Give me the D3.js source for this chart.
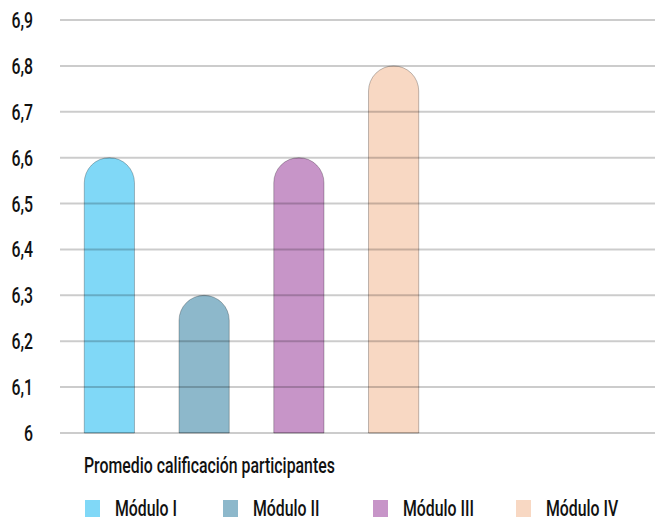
<!DOCTYPE html>
<html>
<head>
<meta charset="utf-8">
<script src="https://cdn.jsdelivr.net/npm/d3@7"></script>
<style>
  html, body { margin: 0; padding: 0; background: #fff; }
  svg { display: block; }
  text { font-family: Roboto, "DejaVu Sans", sans-serif; font-size: 22px; font-weight: 500; fill: #111; }
</style>
</head>
<body>
<svg id="chart" width="655" height="517"></svg>
<script>
// Average grade per module
const categories = ["Módulo I", "Módulo II", "Módulo III", "Módulo IV"];
const values = [6.6, 6.3, 6.6, 6.8];
const colors = ["#80d8f7", "#8db8cb", "#c795c8", "#f8d8c3"];
const yTicks = [6, 6.1, 6.2, 6.3, 6.4, 6.5, 6.6, 6.7, 6.8, 6.9];
const title = "Promedio calificación participantes";

const svg = d3.select("#chart");
const gridLeft = 60, gridRight = 655;

const y = d3.scaleLinear().domain([6, 6.9]).range([433, 20]);
const x = d3.scaleBand().domain(categories).range([62, 441])
  .paddingInner(0.47).paddingOuter(0.235);

const fmt = v => d3.format(".1~f")(v).replace(".", ",");

// Narrow the text horizontally to get a condensed look
const probe = svg.append("text").text(title);
const sx = 251 / probe.node().getComputedTextLength();
probe.remove();
const place = (x0, y0) => `translate(${x0},${y0}) scale(${sx},1)`;

// Bars with fully rounded tops
const bw = x.bandwidth();
const r = bw / 2;
svg.append("g").selectAll("path").data(categories).join("path")
  .attr("d", (c, i) => {
    const x0 = x(c), x1 = x0 + bw, yb = y(6), yt = y(values[i]);
    return `M${x0},${yb} L${x0},${yt + r} A${r},${r} 0 0 1 ${x1},${yt + r} L${x1},${yb} Z`;
  })
  .attr("fill", (c, i) => colors[i])
  .attr("stroke", "rgba(0,0,0,0.25)")
  .attr("stroke-width", 1);

// Horizontal grid lines
svg.append("g").selectAll("line").data(yTicks).join("line")
  .attr("x1", gridLeft).attr("x2", gridRight)
  .attr("y1", d => y(d)).attr("y2", d => y(d))
  .attr("stroke", "rgba(0,0,0,0.2)")
  .attr("stroke-width", 2);

// Y axis labels
svg.append("g").selectAll("text").data(yTicks).join("text")
  .attr("transform", d => place(33, y(d) + 8))
  .attr("text-anchor", "end")
  .text(fmt);

// Series title
svg.append("text")
  .attr("transform", place(84, 473))
  .text(title);

// Legend
const legendX = [85, 223, 373, 516];
const lg = svg.append("g").selectAll("g").data(categories).join("g")
  .attr("transform", (c, i) => `translate(${legendX[i]},500)`);
lg.append("rect").attr("width", 15).attr("height", 17)
  .attr("fill", (c, i) => colors[i]);
lg.append("text")
  .attr("transform", place(30, 16))
  .text(d => d);
</script>
</body>
</html>
